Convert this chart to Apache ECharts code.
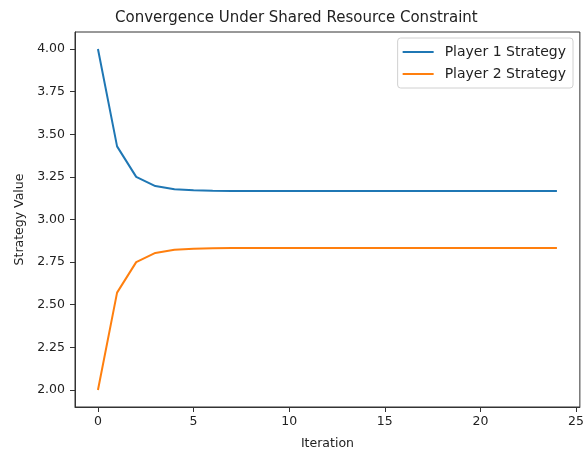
<!DOCTYPE html>
<html lang="en">
<head>
    <meta charset="UTF-8">
    <title>Convergence Under Shared Resource Constraint</title>
    <script src="https://cdn.jsdelivr.net/npm/echarts@6/dist/echarts.min.js"></script>
    <style>
        html, body { margin: 0; padding: 0; background: #fff; }
        #chart { width: 587px; height: 455px; }
    </style>
</head>
<body>
    <div id="chart"></div>
    <script>
        // data
        var iterations = [0, 1, 2, 3, 4, 5, 6, 7, 8, 9, 10, 11, 12, 13, 14, 15, 16, 17, 18, 19, 20, 21, 22, 23, 24];
        var player1 = [4.000, 3.429, 3.250, 3.196, 3.177, 3.171, 3.168, 3.167, 3.167, 3.167, 3.167, 3.167, 3.167,
            3.167, 3.167, 3.167, 3.167, 3.167, 3.167, 3.167, 3.167, 3.167, 3.167, 3.167, 3.167];
        var player2 = [2.000, 2.571, 2.750, 2.804, 2.823, 2.829, 2.832, 2.833, 2.833, 2.833, 2.833, 2.833, 2.833,
            2.833, 2.833, 2.833, 2.833, 2.833, 2.833, 2.833, 2.833, 2.833, 2.833, 2.833, 2.833];
        var xTicks = [0, 5, 10, 15, 20, 25];
        var yTicks = [2.00, 2.25, 2.50, 2.75, 3.00, 3.25, 3.50, 3.75, 4.00];

        function pairs(vals) {
            var out = [];
            for (var i = 0; i < iterations.length; i++) {
                out.push([iterations[i], vals[i]]);
            }
            return out;
        }

        var font = 'DejaVu Sans';
        var txt = '#222';

        var chart = echarts.init(document.getElementById('chart'));
        chart.setOption({
            backgroundColor: '#ffffff',
            animation: false,
            title: {
                text: 'Convergence Under Shared Resource Constraint',
                left: 110,
                top: 6,
                textStyle: { fontFamily: font, fontSize: 15, fontWeight: 'normal', color: txt }
            },
            legend: {
                orient: 'vertical',
                right: 14,
                top: 38,
                padding: [7, 7, 7, 5],
                itemGap: 8,
                itemWidth: 31,
                itemHeight: 2,
                borderColor: '#d0d0d0',
                borderWidth: 1,
                borderRadius: 3,
                backgroundColor: '#fff',
                icon: 'rect',
                textStyle: { fontFamily: font, fontSize: 14, color: txt, padding: [0, 0, 0, 6] },
                data: ['Player 1 Strategy', 'Player 2 Strategy']
            },
            grid: {
                left: 75,
                right: 7,
                top: 32,
                bottom: 46,
                show: true,
                borderColor: '#333',
                borderWidth: 1,
                backgroundColor: 'transparent'
            },
            xAxis: {
                type: 'value',
                min: -1.2,
                max: 25.2,
                name: 'Iteration',
                nameLocation: 'middle',
                nameGap: 30,
                nameTextStyle: { fontFamily: font, fontSize: 12.5, color: txt },
                axisLine: { show: true, onZero: false, lineStyle: { color: '#333' } },
                axisTick: { show: true, length: 5, lineStyle: { color: '#333' }, customValues: xTicks },
                axisLabel: {
                    fontFamily: font, fontSize: 12.5, color: txt, margin: 8,
                    customValues: xTicks
                },
                splitLine: { show: false }
            },
            yAxis: {
                type: 'value',
                min: 1.9,
                max: 4.1,
                name: 'Strategy Value',
                nameLocation: 'middle',
                nameGap: 49,
                nameTextStyle: { fontFamily: font, fontSize: 12.5, color: txt },
                axisLine: { show: true, onZero: false, lineStyle: { color: '#333' } },
                axisTick: { show: true, length: 5, lineStyle: { color: '#333' }, customValues: yTicks },
                axisLabel: {
                    fontFamily: font, fontSize: 12.5, color: txt, margin: 10,
                    customValues: yTicks,
                    formatter: function(v) { return v.toFixed(2); }
                },
                splitLine: { show: false }
            },
            series: [{
                name: 'Player 1 Strategy',
                type: 'line',
                data: pairs(player1),
                showSymbol: false,
                symbol: 'none',
                itemStyle: { color: '#1f77b4' },
                lineStyle: { color: '#1f77b4', width: 2 }
            }, {
                name: 'Player 2 Strategy',
                type: 'line',
                data: pairs(player2),
                showSymbol: false,
                symbol: 'none',
                itemStyle: { color: '#ff7f0e' },
                lineStyle: { color: '#ff7f0e', width: 2 }
            }]
        });
    </script>
</body>
</html>
